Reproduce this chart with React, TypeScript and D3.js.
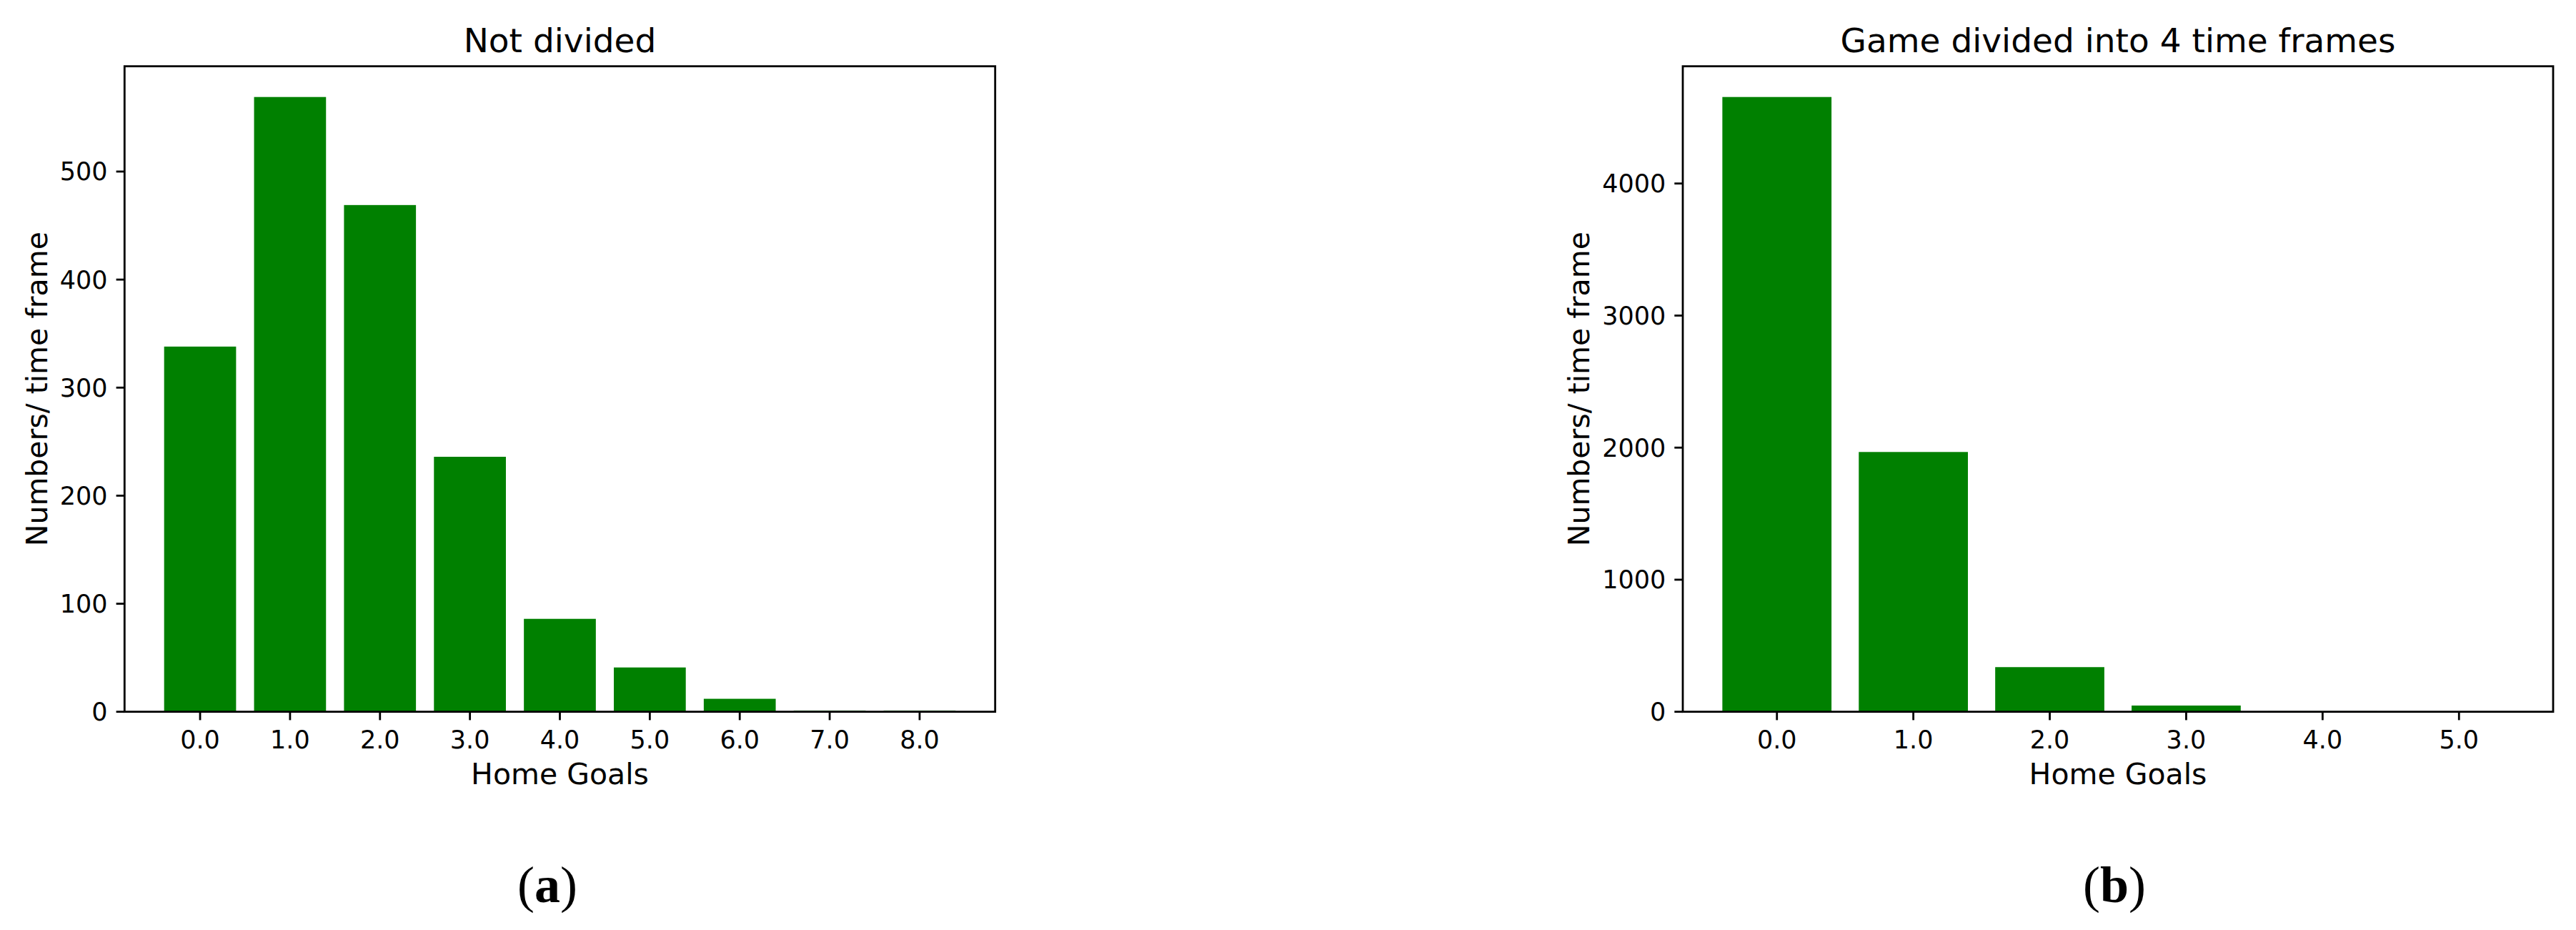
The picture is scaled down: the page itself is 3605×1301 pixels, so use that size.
import React from 'react';
import * as d3 from 'd3';

// goals per match, not divided
const leftGoals = ['0.0', '1.0', '2.0', '3.0', '4.0', '5.0', '6.0', '7.0', '8.0'];
const leftCounts = [338, 569, 469, 236, 86, 41, 12, 1, 1];
const leftYTicks = [0, 100, 200, 300, 400, 500];

// goals per time frame (game split in 4)
const rightGoals = ['0.0', '1.0', '2.0', '3.0', '4.0', '5.0'];
const rightCounts = [4655, 1967, 338, 47, 4, 1];
const rightYTicks = [0, 1000, 2000, 3000, 4000];

const titles = ['Not divided', 'Game divided into 4 time frames'];
const xTitle = 'Home Goals';
const yTitle = 'Numbers/ time frame';
const captions = ['a', 'b'];

const FONT = 'DejaVu Sans, sans-serif';
const GREEN = '#008000';
const top = 92.7, bottom = 995.7;
const tickLen = 11.7;

type PanelProps = {
    goals: string[];
    counts: number[];
    yTicks: number[];
    x0: number;
    x1: number;
    title: string;
    yLabelX: number;
    caption: string;
    captionX: number;
};

const Panel = ({ goals, counts, yTicks, x0, x1, title, yLabelX, caption, captionX }: PanelProps) => {
    const n = goals.length;
    const pad = 0.05 * (n - 1 + 0.8);
    const x = d3.scaleLinear()
        .domain([-0.4 - pad, n - 1 + 0.4 + pad])
        .range([x0, x1]);
    const y = d3.scaleLinear()
        .domain([0, d3.max(counts)! * 1.05])
        .range([bottom, top]);
    const bw = x(0.8) - x(0);

    return (
        <g>
            {counts.map((v, i) => (
                <rect key={i} fill={GREEN}
                    x={x(i - 0.4)} y={y(v)}
                    width={bw} height={bottom - y(v)} />
            ))}
            <rect x={x0} y={top} width={x1 - x0} height={bottom - top}
                fill="none" stroke="#000" strokeWidth={2.8} />
            {goals.map((g, i) => (
                <g key={g}>
                    <line x1={x(i)} x2={x(i)} y1={bottom} y2={bottom + tickLen}
                        stroke="#000" strokeWidth={2.8} />
                    <text x={x(i)} y={1047} textAnchor="middle"
                        fontFamily={FONT} fontSize={35}>{g}</text>
                </g>
            ))}
            {yTicks.map(t => (
                <g key={t}>
                    <line x1={x0 - tickLen} x2={x0} y1={y(t)} y2={y(t)}
                        stroke="#000" strokeWidth={2.8} />
                    <text x={x0 - tickLen - 12} y={y(t) + 12.5} textAnchor="end"
                        fontFamily={FONT} fontSize={35}>{t}</text>
                </g>
            ))}
            <text x={(x0 + x1) / 2} y={73} textAnchor="middle"
                fontFamily={FONT} fontSize={47}>{title}</text>
            <text x={(x0 + x1) / 2} y={1097} textAnchor="middle"
                fontFamily={FONT} fontSize={41}>{xTitle}</text>
            <text transform={'translate(' + yLabelX + ',' + (top + bottom) / 2 + ') rotate(-90)'}
                textAnchor="middle" fontFamily={FONT} fontSize={41}>{yTitle}</text>
            <text x={captionX} y={1262} textAnchor="middle"
                fontFamily="Liberation Serif, serif" fontSize={72}>
                (<tspan fontWeight="bold">{caption}</tspan>)
            </text>
        </g>
    );
};

const App = () => {
    return (
        <div style={{ position: 'absolute', left: 0, top: 0 }}>
            <svg width={3605} height={1301} style={{ display: 'block', background: '#fff' }}>
                <Panel goals={leftGoals} counts={leftCounts} yTicks={leftYTicks}
                    x0={174.3} x1={1392.7} title={titles[0]} yLabelX={66}
                    caption={captions[0]} captionX={766} />
                <Panel goals={rightGoals} counts={rightCounts} yTicks={rightYTicks}
                    x0={2355} x1={3573} title={titles[1]} yLabelX={2224}
                    caption={captions[1]} captionX={2959} />
            </svg>
        </div>
    );
};

export default App;
